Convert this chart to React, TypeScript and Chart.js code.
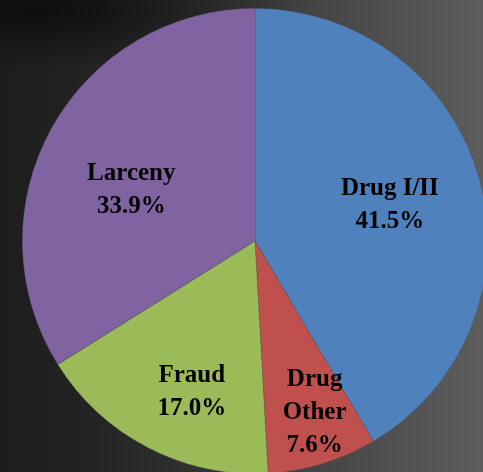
import React, { useEffect, useRef } from "react";
import { Chart, registerables } from "chart.js";

Chart.register(...registerables);

const categories = ["Drug I/II", "Drug Other", "Fraud", "Larceny"];
const labelLines = [["Drug I/II"], ["Drug", "Other"], ["Fraud"], ["Larceny"]];
const values = [41.5, 7.6, 17.0, 33.9];
const valueLabels = ["41.5%", "7.6%", "17.0%", "33.9%"];
const colors = ["#4f81bd", "#c0504d", "#9bbb59", "#8064a2"];
const labelRadiusFrac = [0.6, 0.782, 0.705, 0.575];
const labelAngleShiftDeg = [0.3, -2.2, -4.7, -6.6];

const labelPlugin = {
  id: "sliceLabels",
  afterDatasetsDraw(chart: any) {
    const ctx = chart.ctx;
    const meta = chart.getDatasetMeta(0);
    ctx.save();
    ctx.font = "bold 25px 'Liberation Serif', 'Times New Roman', serif";
    ctx.fillStyle = "#000";
    ctx.textAlign = "center";
    ctx.textBaseline = "middle";
    const lineH = 33;
    meta.data.forEach((arc: any, i: number) => {
      const p = arc.getProps(["x", "y", "startAngle", "endAngle", "outerRadius"], true);
      const mid = (p.startAngle + p.endAngle) / 2 + (labelAngleShiftDeg[i] * Math.PI) / 180;
      const r = p.outerRadius * labelRadiusFrac[i];
      const cx = p.x + Math.cos(mid) * r;
      const cy = p.y + Math.sin(mid) * r;
      const lines = [...labelLines[i], valueLabels[i]];
      const top = cy - ((lines.length - 1) * lineH) / 2;
      lines.forEach((t, k) => ctx.fillText(t, cx, top + k * lineH));
    });
    ctx.restore();
  },
};

export default function App() {
  const ref = useRef<HTMLCanvasElement>(null);
  useEffect(() => {
    document.body.style.margin = "0";
    const chart = new Chart(ref.current as HTMLCanvasElement, {
      type: "pie",
      data: {
        labels: categories,
        datasets: [
          {
            data: values,
            backgroundColor: colors,
            borderColor: "rgba(70,70,70,0.45)",
            borderWidth: 0.6,
          },
        ],
      },
      options: {
        responsive: false,
        animation: false,
        layout: { padding: 0 },
        plugins: {
          legend: { display: false },
          tooltip: { enabled: false },
        },
      },
      plugins: [labelPlugin],
    });
    return () => chart.destroy();
  }, []);
  return (
    <div
      style={{
        position: "fixed",
        left: 0,
        top: 0,
        width: 483,
        height: 472,
        overflow: "hidden",
        background:
          "radial-gradient(ellipse 260px 60px at 40px 10px, rgba(10,10,10,0.8), rgba(10,10,10,0) 100%), linear-gradient(to right, #1d1d1d 0%, #242424 20%, #343434 45%, #4c4c4c 75%, #5d5d5d 100%)",
      }}
    >
      <canvas
        ref={ref}
        width={466}
        height={466}
        style={{ position: "absolute", left: 22, top: 8, width: 466, height: 466 }}
      />
    </div>
  );
}
